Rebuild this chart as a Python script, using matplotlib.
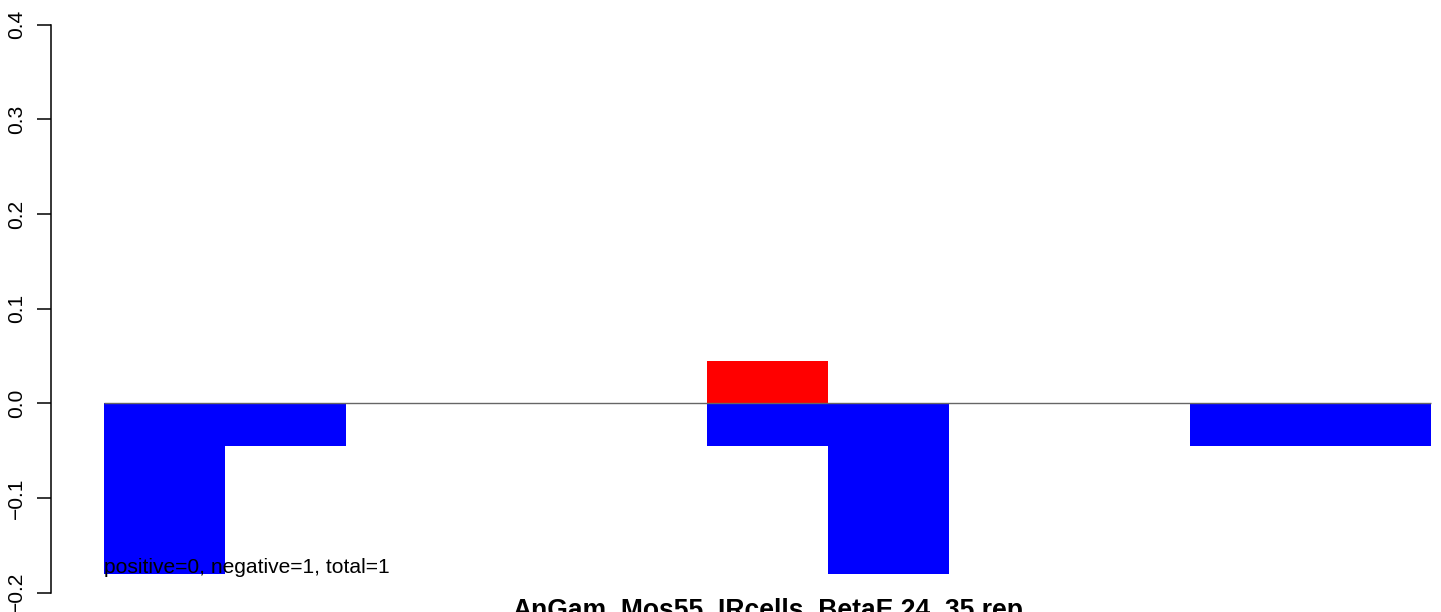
import numpy as np
import matplotlib
matplotlib.use('Agg')
import matplotlib.pyplot as plt

plt.rcParams['font.family'] = ['Liberation Sans', 'DejaVu Sans']

# per-position counts (scaled), 11 slots
slots = np.arange(11)
neg_vals = [-0.18, -0.045, 0, 0, 0, -0.045, -0.18, 0, 0, -0.045, -0.045]
pos_vals = [0, 0, 0, 0, 0, 0.045, 0, 0, 0, 0, 0]
yticks = [-0.2, -0.1, 0.0, 0.1, 0.2, 0.3, 0.4]
title = 'AnGam_Mos55_IRcells_BetaE.24_35.rep'
note = 'positive=0, negative=1, total=1'

W, H = 1441, 612
fig = plt.figure(figsize=(W / 100, H / 100), dpi=100)

# plot region (R style, partly outside the saved picture)
left_px, right_px = 51.4, 1484.1
top_px, bottom_px = 2.0, 615.4
ax = fig.add_axes([left_px / W, (H - bottom_px) / H,
                   (right_px - left_px) / W, (bottom_px - top_px) / H])
ax.set_xlim(-0.44, 11.44)
ax.set_ylim(-0.224, 0.424)

ax.bar(slots, neg_vals, width=1, align='edge', color='#0000ff', linewidth=0)
ax.bar(slots, pos_vals, width=1, align='edge', color='#ff0000', linewidth=0)
ax.hlines(0, 0, len(slots), color='#666666', linewidth=1)

ax.text(0, -0.179, note, fontsize=15.1, ha='left', va='baseline', color='black')

for s in ['top', 'right', 'bottom']:
    ax.spines[s].set_visible(False)
ax.spines['left'].set_bounds(-0.2, 0.4)
ax.spines['left'].set_linewidth(1.1)
ax.set_xticks([])
ax.set_yticks(yticks)
ax.set_yticklabels(['\u22120.2', '\u22120.1', '0.0', '0.1', '0.2', '0.3', '0.4'],
                   rotation=90, va='center', fontsize=15.1)
ax.tick_params(axis='y', length=10, width=1.1, pad=8)

# title sits at the bottom edge and is cut off, as in the original
fig.text((left_px + right_px) / 2 / W, (H - 618) / H, title,
         ha='center', va='baseline', fontsize=19.1, fontweight='bold')

fig.savefig('out.png', dpi=100)
